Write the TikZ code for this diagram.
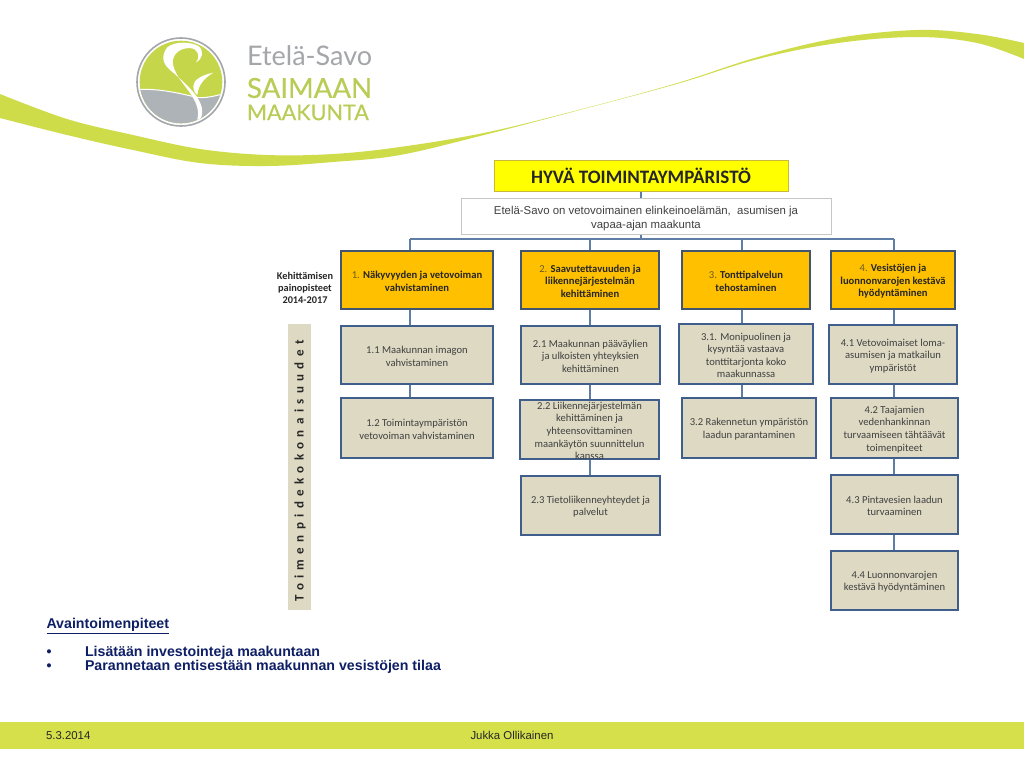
\documentclass[tikz,border=0pt]{standalone}
\usepackage{fontspec}
\setmainfont{Carlito}
\newfontfamily\arialf{Liberation Sans}
\newfontfamily\latof{Lato}
\newfontfamily\latofb[FakeBold=0.35]{Lato}
\pgfdeclarelayer{back}
\pgfdeclarelayer{bg}
\pgfsetlayers{back,bg,main}
\definecolor{swoosh}{HTML}{CFDC4A}
\definecolor{footerc}{HTML}{D5E04B}
\definecolor{logolime}{HTML}{C5D64A}
\definecolor{logogray}{HTML}{AEB3B8}
\definecolor{ringgray}{HTML}{A3A6AB}
\definecolor{textlime}{HTML}{B9CC55}
\definecolor{textgray}{HTML}{A4A6AA}
\definecolor{boxblue}{HTML}{3F5E8C}
\definecolor{orangeedge}{HTML}{41566E}
\definecolor{linkc}{HTML}{5F7EA6}
\definecolor{orangefill}{HTML}{FFC000}
\definecolor{tan}{HTML}{DDD9C3}
\definecolor{navy}{HTML}{0F1F66}
\definecolor{numc}{HTML}{6B5A20}
\definecolor{titlefill}{HTML}{FFFF00}
\definecolor{titleedge}{HTML}{C9B93A}
\def\firsth{10pt}
\tikzset{
  basebox/.style={rectangle,inner sep=0pt,outer sep=0pt,align=center,line width=2pt},
  headbox/.style={basebox,fill=orangefill,draw=orangeedge,text=black!85,font=\fontsize{10.6}{12.6}\selectfont},
  subbox/.style={basebox,fill=tan,draw=boxblue,text=black!75,font=\fontsize{10.6}{12.6}\selectfont},
  titlebox/.style={basebox,fill=titlefill,draw=titleedge,line width=0.7pt,text=black!85,font=\fontsize{19}{22}\selectfont\bfseries},
  visionbox/.style={basebox,fill=white,draw=gray!45,line width=0.8pt,text=black!75,font=\arialf\fontsize{11.4}{14}\selectfont,/utils/exec={\def\firsth{14pt}}},
  sidebox/.style={basebox,fill=tan,line width=0pt},
  link/.style={draw=linkc,line width=1.2pt},
  plain/.style={inner sep=0pt,outer sep=0pt},
  keytext/.style={plain,anchor=west,text=navy,font=\arialf\bfseries\fontsize{14.2}{15}\selectfont},
  foot/.style={plain,text=black!85,font=\arialf\fontsize{11.4}{12}\selectfont}
}
\newcommand{\bx}[7]{%
  \pgfmathsetmacro{\bw}{#5-#3}\pgfmathsetmacro{\bh}{#6-#4}%
  \pgfmathsetmacro{\bcx}{(#3+#5)/2}\pgfmathsetmacro{\bcy}{(#4+#6)/2}%
  \node[#1,minimum width=\bw pt,minimum height=\bh pt] (#2) at (\bcx,\bcy) {\rule{0pt}{\firsth}#7};}
\newcommand{\num}[1]{{\color{numc}#1}}
\begin{document}
\begin{tikzpicture}[x=1pt,y=-1pt]
\useasboundingbox (0,0) rectangle (1024,768);
\begin{pgfonlayer}{back}
\fill[white] (0,0) rectangle (1024,768);
\end{pgfonlayer}
% swoosh
\fill[swoosh] plot[smooth,tension=0.6] coordinates {(0,94) (67,119) (133,135) (200,149) (267,155) (333,154) (400,147) (486,132.5) (579,109.8) (678,82.8) (758,57) (838,38) (917,30) (977,34) (1024,43)}
  -- (1024,59)
  -- plot[smooth,tension=0.6] coordinates {(1024,59) (977,43) (917,37) (838,43) (758,59) (678,83.6) (579,110.2) (486,134.5) (400,155) (333,162) (267,166) (200,163) (133,150) (67,135) (0,118)} -- cycle;
% footer
\fill[footerc] (0,722) rectangle (1024,749);
% logo
\draw[ringgray,line width=1.6pt] (181,82) circle (44);
\begin{scope}
  \clip (181,82) circle (41.3);
  \fill[logolime] (130,30) rectangle (235,135);
  \fill[logogray] (130,90.5) .. controls (150,87) and (175,92) .. (195,97) .. controls (205,99) and (215,96) .. (230,92) -- (230,135) -- (130,135) -- cycle;
  \draw[white,line width=1pt] (130,90.5) .. controls (150,87) and (175,92) .. (195,97) .. controls (205,99) and (215,96) .. (230,92);
  \begin{scope}[shift={(130,30)},x=0.3333pt,y=-0.3333pt]
    \fill[white] (198,97) .. controls (218,88) and (224,62) .. (205,48) .. controls (185,36) and (135,32) .. (112,52)
      .. controls (92,78) and (98,100) .. (120,120) .. controls (150,145) and (190,180) .. (205,208)
      .. controls (222,235) and (222,265) .. (195,287) .. controls (208,262) and (208,235) .. (190,205)
      .. controls (172,172) and (140,145) .. (130,108) .. controls (122,78) and (145,54) .. (180,54)
      .. controls (205,56) and (212,80) .. (198,97) -- cycle;
    \fill[white] (250,128) .. controls (215,135) and (190,150) .. (190,168) .. controls (190,180) and (195,190) .. (202,195) .. controls (205,165) and (222,145) .. (250,128) -- cycle;
  \end{scope}
\end{scope}
\node[plain,anchor=west,text=textgray,font=\latof\fontsize{27}{27}\selectfont] (lg1) at (247,56) {Etelä-Savo};
\node[plain,anchor=west,text=textlime,font=\latofb\fontsize{27.6}{28}\selectfont] (lg2) at (247,88) {SAIMAAN};
\node[plain,anchor=west,text=textlime,font=\latofb\fontsize{21.6}{20}\selectfont] (lg3) at (247,112.5) {MAAKUNTA};
% coordinates for columns
\coordinate (c0) at (641,239);
\coordinate (c1) at (410,239);
\coordinate (c2) at (590,239);
\coordinate (c3) at (742,239);
\coordinate (c4) at (894,239);
\bx{titlebox}{title}{494}{160}{788}{191}{HYVÄ TOIMINTAYMPÄRISTÖ}
\bx{visionbox}{vision}{461}{198}{831}{234}{Etelä-Savo on vetovoimainen elinkeinoelämän,\ \ asumisen ja\\vapaa-ajan maakunta}
\bx{headbox}{h1}{341}{251}{493}{309}{\num{1.} \textbf{Näkyvyyden ja vetovoiman}\\\textbf{vahvistaminen}}
\bx{headbox}{h2}{521}{251}{659}{309}{\num{2.} \textbf{Saavutettavuuden ja}\\\textbf{liikennejärjestelmän}\\\textbf{kehittäminen}}
\bx{headbox}{h3}{682}{251}{810}{309}{\num{3.} \textbf{Tonttipalvelun}\\\textbf{tehostaminen}}
\bx{headbox}{h4}{831}{251}{955}{309}{\num{4.} \textbf{Vesistöjen ja}\\\textbf{luonnonvarojen kestävä}\\\textbf{hyödyntäminen}}
\bx{subbox}{s11}{341}{326}{493}{384}{1.1 Maakunnan imagon\\vahvistaminen}
\bx{subbox}{s12}{341}{398}{493}{458}{1.2 Toimintaympäristön\\vetovoiman vahvistaminen}
\bx{subbox}{s21}{521}{326}{660}{384}{2.1 Maakunnan pääväylien\\ja ulkoisten yhteyksien\\kehittäminen}
\bx{subbox}{s22}{520}{400}{659}{459}{\smash{\raisebox{1pt}{\parbox[c]{139pt}{\centering 2.2 Liikennejärjestelmän\\kehittäminen ja\\yhteensovittaminen\\maankäytön suunnittelun\\kanssa}}}}
\bx{subbox}{s23}{521}{476}{660}{535}{2.3 Tietoliikenneyhteydet ja\\palvelut}
\bx{subbox}{s31}{679}{324}{813}{384}{3.1. Monipuolinen ja\\kysyntää vastaava\\tonttitarjonta koko\\maakunnassa}
\bx{subbox}{s32}{682}{398}{816}{458}{3.2 Rakennetun ympäristön\\laadun parantaminen}
\bx{subbox}{s41}{829}{325}{957}{384}{4.1 Vetovoimaiset loma-\\asumisen ja matkailun\\ympäristöt}
\bx{subbox}{s42}{831}{398}{958}{458}{4.2 Taajamien\\vedenhankinnan\\turvaamiseen tähtäävät\\toimenpiteet}
\bx{subbox}{s43}{831}{475}{958}{534}{4.3 Pintavesien laadun\\turvaaminen}
\bx{subbox}{s44}{831}{551}{958}{610}{4.4 Luonnonvarojen\\kestävä hyödyntäminen}
\begin{pgfonlayer}{bg}
  \draw[link] (title.south -| c0) -- (vision.north -| c0);
  \draw[link] (vision.south -| c0) -- (c0);
  \draw[link] (c1) -- (c4);
  \draw[link] (c1) -- (h1.north -| c1);
  \draw[link] (c2) -- (h2.north -| c2);
  \draw[link] (c3) -- (h3.north -| c3);
  \draw[link] (c4) -- (h4.north -| c4);
  \draw[link] (h1.south -| c1) -- (s11.north -| c1);
  \draw[link] (s11.south -| c1) -- (s12.north -| c1);
  \draw[link] (h2.south -| c2) -- (s21.north -| c2);
  \draw[link] (s21.south -| c2) -- (s22.north -| c2);
  \draw[link] (s22.south -| c2) -- (s23.north -| c2);
  \draw[link] (h3.south -| c3) -- (s31.north -| c3);
  \draw[link] (s31.south -| c3) -- (s32.north -| c3);
  \draw[link] (h4.south -| c4) -- (s41.north -| c4);
  \draw[link] (s41.south -| c4) -- (s42.north -| c4);
  \draw[link] (s42.south -| c4) -- (s43.north -| c4);
  \draw[link] (s43.south -| c4) -- (s44.north -| c4);
\end{pgfonlayer}
% side labels
\node[plain,align=center,text=black!85,font=\bfseries\fontsize{10.3}{12.3}\selectfont] (kp) at (305,288) {Kehittämisen\\painopisteet\\2014-2017};
\bx{sidebox}{side}{288}{324}{311}{610}{}
\node[plain,rotate=90,text=black!85,font=\bfseries\fontsize{13}{13}\selectfont] (sidetxt) at (300,471) {\addfontfeature{LetterSpace=41.5}Toimenpidekokonaisuudet};
% key actions
\node[keytext] (k0) at (46.5,626) {\underline{Avaintoimenpiteet}};
\node[keytext] (b1) at (46.5,653) {•};
\node[keytext] (k1) at (85,653) {Lisätään investointeja maakuntaan};
\node[keytext] (b2) at (46.5,667) {•};
\node[keytext] (k2) at (85,667) {Parannetaan entisestään maakunnan vesistöjen tilaa};
% footer text
\node[foot,anchor=west] (d) at (46,736) {5.3.2014};
\node[foot] (a) at (512,735) {Jukka Ollikainen};
\end{tikzpicture}
\end{document}
